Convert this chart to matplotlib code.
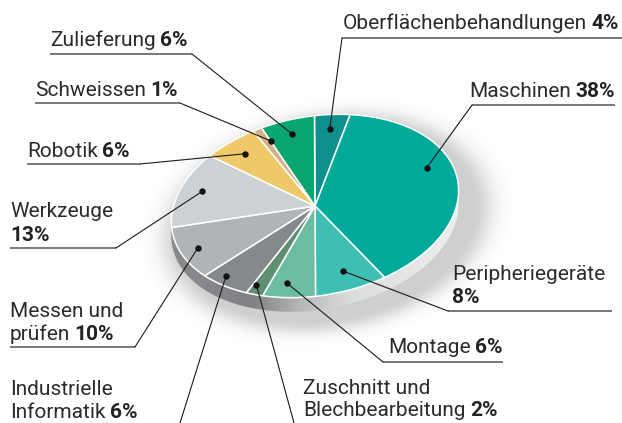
import numpy as np
import matplotlib
matplotlib.use("Agg")
import matplotlib.pyplot as plt
from matplotlib.transforms import Affine2D
from matplotlib.patches import Polygon
from matplotlib.colors import LinearSegmentedColormap

# ---------------- data ----------------
categories = ["Oberflächenbehandlungen", "Maschinen", "Peripheriegeräte", "Montage",
              "Zuschnitt und Blechbearbeitung", "Industrielle Informatik",
              "Messen und prüfen", "Werkzeuge", "Robotik", "Schweissen", "Zulieferung"]
shares = [4, 38, 8, 6, 2, 6, 10, 13, 6, 1, 6]
colors = ["#0d8f8b", "#00aa9b", "#3fbfb4", "#6cbca3", "#5f8f73", "#86898b",
          "#b1b4b6", "#cdd1d3", "#efc86a", "#d5b187", "#0aa66f"]

# ---------------- figure / geometry ----------------
W, H = 622, 423
plt.rcParams["font.family"] = ["Roboto", "DejaVu Sans"]
fig = plt.figure(figsize=(W / 100, H / 100), dpi=100)
ax = fig.add_axes([0, 0, 1, 1])

CX, CY = 315, 206          # pie centre (screen px, y from top)
A, B, ROT = 145, 89.5, 10  # ellipse semi-axes and tilt
DEPTH = 14

geom = Affine2D().scale(A, B).rotate_deg(ROT).translate(CX, H - CY)


def Y(y):
    return H - y


# soft drop shadow
gx = np.linspace(140, 540, 400)
gy = np.linspace(Y(380), Y(100), 280)
GX, GY = np.meshgrid(gx, gy)
sh = Affine2D().scale(A * 1.02, B * 1.08).rotate_deg(ROT).translate(CX + 12, H - CY - 16).inverted()
uv = sh.transform(np.c_[GX.ravel(), GY.ravel()])
r = np.hypot(uv[:, 0], uv[:, 1]).reshape(GX.shape)
alpha = np.where(r < 1, 0.25, 0.25 * np.exp(-((r - 1) / 0.14) ** 2))
rgba = np.zeros(GX.shape + (4,))
rgba[..., :3] = 0.25
rgba[..., 3] = alpha
ax.imshow(rgba, extent=(gx[0], gx[-1], gy[0], gy[-1]), origin="lower",
          aspect="auto", zorder=0, interpolation="bilinear")

# extruded side (convex hull of top ellipse and shifted copy)
t = np.linspace(0, 2 * np.pi, 400, endpoint=False)
top_pts = geom.transform(np.c_[np.cos(t), np.sin(t)])
all_pts = np.vstack([top_pts, top_pts - [0, DEPTH]])


def hull(points):
    pts = sorted(map(tuple, points))

    def cross(o, a, b):
        return (a[0] - o[0]) * (b[1] - o[1]) - (a[1] - o[1]) * (b[0] - o[0])
    lower, upper = [], []
    for p in pts:
        while len(lower) >= 2 and cross(lower[-2], lower[-1], p) <= 0:
            lower.pop()
        lower.append(p)
    for p in reversed(pts):
        while len(upper) >= 2 and cross(upper[-2], upper[-1], p) <= 0:
            upper.pop()
        upper.append(p)
    return np.array(lower[:-1] + upper[:-1])


side_poly = Polygon(hull(all_pts), closed=True, facecolor="none", edgecolor="#c8c8c8",
                    lw=0.6, transform=ax.transData, zorder=1)
ax.add_patch(side_poly)
rim_cmap = LinearSegmentedColormap.from_list(
    "rim", [(0.0, "#8a8c8e"), (0.30, "#7f8184"), (0.45, "#b5b6b7"),
            (0.62, "#dcdddd"), (1.0, "#eef0ef")])
im = ax.imshow(np.linspace(0, 1, 256)[None, :], cmap=rim_cmap,
               extent=(CX - A - 10, CX + A + 10, Y(CY + B + 30), Y(CY - B - 30)),
               aspect="auto", zorder=1)
im.set_clip_path(side_poly)

# top face: the pie
wedges, _ = ax.pie(shares, colors=colors, startangle=84, counterclock=False,
                   wedgeprops=dict(edgecolor="white", linewidth=1.1))
for w in wedges:
    w.set_transform(Affine2D().scale(A, B).rotate_deg(ROT).translate(CX, H - CY) + ax.transData)
    w.set_zorder(2)

ax.set_xlim(0, W)
ax.set_ylim(0, H)
ax.set_aspect("auto")
ax.axis("off")

# ---------------- labels ----------------
layout = {
    "Oberflächenbehandlungen": dict(x=619, base=[29], ha="right", wrap=None, ul=(342, 622, 38), start=(342, 38), r=0.84, nudge=0),
    "Maschinen": dict(x=615, base=[97], ha="right", wrap=None, ul=(472, 615, 105), start=(472, 105), r=0.83, nudge=13),
    "Peripheriegeräte": dict(x=452, base=[280, 303], ha="left", wrap=1, ul=(448, 612, 311), start=(448, 311), r=0.78, nudge=0),
    "Montage": dict(x=503, base=[353], ha="right", wrap=None, ul=(383, 503, 362), start=(383, 362), r=0.84, nudge=-3),
    "Zuschnitt und Blechbearbeitung": dict(x=303, base=[394, 416], ha="left", wrap=2, ul=None, start=(294, 423), r=0.9, nudge=-2),
    "Industrielle Informatik": dict(x=10, base=[395, 418], ha="left", wrap=1, ul=None, start=(180, 423), r=0.91, nudge=-3.5),
    "Messen und prüfen": dict(x=10, base=[317, 340], ha="left", wrap=2, ul=(10, 135, 347), start=(135, 347), r=0.88, nudge=0),
    "Werkzeuge": dict(x=10, base=[217, 241], ha="left", wrap=1, ul=(10, 116, 248), start=(116, 248), r=0.84, nudge=-1),
    "Robotik": dict(x=27, base=[157], ha="left", wrap=None, ul=(27, 140, 164), start=(140, 164), r=0.82, nudge=0),
    "Schweissen": dict(x=35, base=[96], ha="left", wrap=None, ul=(35, 180, 103), start=(180, 103), r=0.83, nudge=-2),
    "Zulieferung": dict(x=50, base=[46], ha="left", wrap=None, ul=(50, 192, 54), start=(192, 54), r=0.84, nudge=0),
}

FS = 15
TXT = "#2b2b2b"
fig.canvas.draw()
renderer = fig.canvas.get_renderer()
inv = ax.transData.inverted()
GAP = 4.5


def draw_line(normal, bold, x, y, ha):
    if ha == "left":
        cur = x
        if normal:
            tn = ax.text(cur, y, normal, fontsize=FS, color=TXT, ha="left", va="baseline", zorder=7)
            bb = inv.transform(tn.get_window_extent(renderer))
            cur = bb[1, 0] + GAP
        if bold:
            ax.text(cur, y, bold, fontsize=FS, color="#222222", fontweight="bold",
                    ha="left", va="baseline", zorder=7)
    else:
        tb = ax.text(x, y, bold, fontsize=FS, color="#222222", fontweight="bold",
                     ha="right", va="baseline", zorder=7)
        bb = inv.transform(tb.get_window_extent(renderer))
        if normal:
            ax.text(bb[0, 0] - GAP, y, normal, fontsize=FS, color=TXT, ha="right",
                    va="baseline", zorder=7)


for name, val, w in zip(categories, shares, wedges):
    L = layout[name]
    pct = f"{val}%"
    words = name.split()
    if L["wrap"] is None:
        lines = [(name, pct)]
    else:
        lines = [(" ".join(words[:L["wrap"]]), ""), (" ".join(words[L["wrap"]:]), pct)]
    for (normal, bold), b in zip(lines, L["base"]):
        draw_line(normal, bold, L["x"], Y(b), L["ha"])
    if L["ul"] is not None:
        x0, x1, yy = L["ul"]
        ax.plot([x0, x1], [Y(yy), Y(yy)], color="#555555", lw=1.1, zorder=6,
                solid_capstyle="butt")
    mid = np.deg2rad((w.theta1 + w.theta2) / 2 + L["nudge"])
    dx, dy = geom.transform([L["r"] * np.cos(mid), L["r"] * np.sin(mid)])
    sx, sy = L["start"]
    ax.plot([sx, dx], [Y(sy), dy], color="#1a1a1a", lw=0.8, zorder=6)
    ax.plot([dx], [dy], "o", ms=3.6, color="#111111", zorder=8)

ax.set_xlim(0, W)
ax.set_ylim(0, H)
fig.savefig("out.png", dpi=100)
